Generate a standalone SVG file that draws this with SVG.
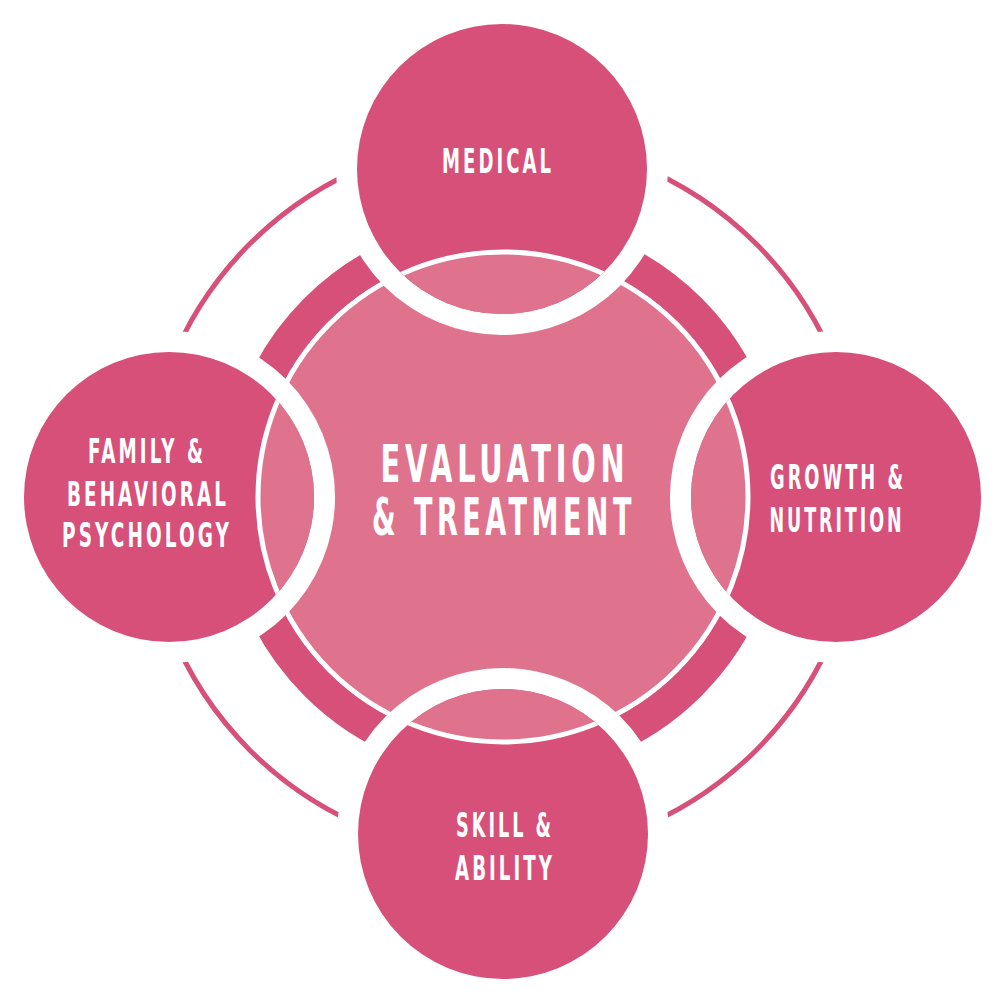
<svg xmlns="http://www.w3.org/2000/svg" width="1004" height="1004" viewBox="0 0 1004 1004">
  <style>
    .dark { fill: #D6507A; }
    .light { fill: #DF738E; stroke: #FFFFFF; stroke-width: 5; }
    .gap { fill: #FFFFFF; }
    .ring { fill: none; stroke: #D6507A; stroke-width: 34; }
    .thin { fill: none; stroke: #D6507A; stroke-width: 5; }
    .lbl { font-family: "Liberation Sans Narrow", "DejaVu Sans Condensed", "Liberation Sans", sans-serif; font-weight: bold; fill: #FFFFFF; text-anchor: middle; letter-spacing: 0.15em; }
    .s { font-size: 33px; }
    .b { font-size: 51px; }
  </style>
  <defs>
    <clipPath id="clip-top"><circle cx="502" cy="169" r="145"/></clipPath>
    <clipPath id="clip-bottom"><circle cx="503" cy="834" r="145"/></clipPath>
    <clipPath id="clip-left"><circle cx="169" cy="497" r="145"/></clipPath>
    <clipPath id="clip-right"><circle cx="836" cy="497" r="145"/></clipPath>
  </defs>

  <g id="connectors">
    <circle class="thin" cx="503" cy="497" r="358"/>
  </g>

  <g id="center">
    <circle class="ring" cx="503" cy="497" r="264"/>
    <circle class="light" cx="503" cy="497" r="245"/>
    <text class="lbl b" x="505" y="482" textLength="249" lengthAdjust="spacingAndGlyphs">EVALUATION</text>
    <text class="lbl b" x="504" y="535" textLength="264" lengthAdjust="spacingAndGlyphs">&amp; TREATMENT</text>
  </g>

  <g id="medical">
    <circle class="gap" cx="502" cy="169" r="166"/>
    <circle class="dark" cx="502" cy="169" r="145"/>
    <circle class="light" cx="503" cy="497" r="245" clip-path="url(#clip-top)"/>
    <text class="lbl s" x="498" y="173" textLength="112" lengthAdjust="spacingAndGlyphs">MEDICAL</text>
  </g>

  <g id="growth-nutrition">
    <circle class="gap" cx="836" cy="497" r="166"/>
    <circle class="dark" cx="836" cy="497" r="145"/>
    <circle class="light" cx="503" cy="497" r="245" clip-path="url(#clip-right)"/>
    <text class="lbl s" x="838" y="489" textLength="136" lengthAdjust="spacingAndGlyphs">GROWTH &amp;</text>
    <text class="lbl s" x="837" y="532" textLength="135" lengthAdjust="spacingAndGlyphs">NUTRITION</text>
  </g>

  <g id="skill-ability">
    <circle class="gap" cx="503" cy="834" r="166"/>
    <circle class="dark" cx="503" cy="834" r="145"/>
    <circle class="light" cx="503" cy="497" r="245" clip-path="url(#clip-bottom)"/>
    <text class="lbl s" x="505" y="837" textLength="98" lengthAdjust="spacingAndGlyphs">SKILL &amp;</text>
    <text class="lbl s" x="505" y="880" textLength="100" lengthAdjust="spacingAndGlyphs">ABILITY</text>
  </g>

  <g id="family-behavioral-psychology">
    <circle class="gap" cx="169" cy="497" r="166"/>
    <circle class="dark" cx="169" cy="497" r="145"/>
    <circle class="light" cx="503" cy="497" r="245" clip-path="url(#clip-left)"/>
    <text class="lbl s" x="147" y="463" textLength="118" lengthAdjust="spacingAndGlyphs">FAMILY &amp;</text>
    <text class="lbl s" x="148" y="506" textLength="162" lengthAdjust="spacingAndGlyphs">BEHAVIORAL</text>
    <text class="lbl s" x="147" y="547" textLength="170" lengthAdjust="spacingAndGlyphs">PSYCHOLOGY</text>
  </g>
</svg>
